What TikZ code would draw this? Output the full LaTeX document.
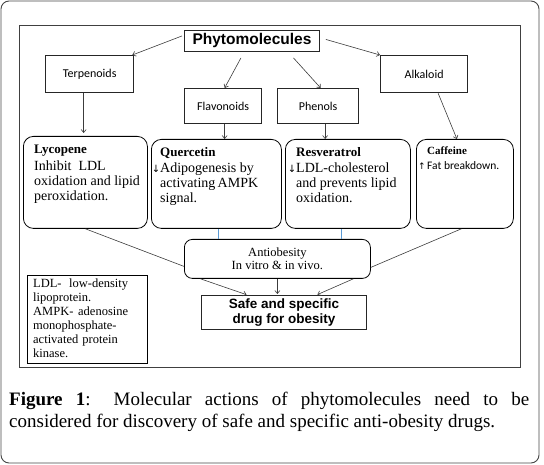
\documentclass[tikz,border=0pt]{standalone}
\usepackage{fontspec}
\setmainfont{Liberation Serif}
\newfontfamily\arialfont{Liberation Sans}
\newfontfamily\calfont{Carlito}
\newfontfamily\symfont{DejaVu Sans}
\usetikzlibrary{arrows.meta,positioning,calc}
\usepackage{xcolor}
\definecolor{LineGray}{RGB}{60,60,60}
\definecolor{FrameGray}{RGB}{70,70,70}
\definecolor{LinkBlue}{RGB}{91,155,213}
\tikzset{
  outerframe/.style={draw=FrameGray, line width=0.9pt, rounded corners=8pt},
  innerframe/.style={draw=black!75, line width=0.8pt},
  headbox/.style={draw=black!85, line width=0.9pt, inner sep=0pt, anchor=north west,
    align=center, font=\arialfont\bfseries\fontsize{15.5}{17}\selectfont},
  classbox/.style={draw=black!85, line width=1.3pt, inner sep=0pt, anchor=north west,
    font=\calfont\fontsize{12}{14}\selectfont},
  actionbox/.style={draw=black, line width=0.8pt, rounded corners=10pt, inner sep=0pt,
    anchor=north west},
  actiontext/.style={anchor=north west, inner sep=0pt, align=left,
    font=\fontsize{14}{15}\selectfont},
  resultbox/.style={draw=black, line width=0.8pt, rounded corners=8pt, inner sep=0pt,
    anchor=north west, align=center, font=\fontsize{12.5}{13}\selectfont},
  notebox/.style={draw=black, line width=1.3pt, inner sep=0pt, anchor=north west},
  notetext/.style={anchor=north west, inner sep=0pt, text width=95pt, align=left,
    font=\fontsize{12.5}{14}\selectfont},
  conn/.style={draw=LineGray, line width=0.6pt, -{Straight Barb[length=3pt,width=5pt]}},
  link/.style={draw=LineGray, line width=0.6pt},
  bluelink/.style={draw=LinkBlue, line width=0.6pt}
}
\newcommand{\downarr}{\llap{\symfont\fontsize{10}{10}\selectfont↓}}
\newcommand{\uparr}{\llap{\symfont\fontsize{9}{10}\selectfont↑\,}}

\begin{document}
\begin{tikzpicture}[x=1pt,y=-1pt]
  \useasboundingbox (0,0) rectangle (544,465);
  \draw[outerframe] (1,1) rectangle (539,463);
  \draw[innerframe] (19,25) rectangle (520,367);

  \node[headbox,minimum width=135pt,minimum height=21pt] (phyto) at (184,30) {Phytomolecules};
  \node[classbox,minimum width=88pt,minimum height=37pt] (terp) at (45,55) {Terpenoids};
  \node[classbox,minimum width=77pt,minimum height=35pt] (flav) at (184,88) {Flavonoids};
  \node[classbox,minimum width=81pt,minimum height=35pt] (phen) at (277,88) {Phenols};
  \node[classbox,minimum width=87pt,minimum height=37pt] (alk) at (380,55) {Alkaloid};

  \node[actionbox,minimum width=124pt,minimum height=92pt] (lyco) at (23,136) {};
  \node[actionbox,minimum width=130pt,minimum height=89pt] (querc) at (151,139) {};
  \node[actionbox,minimum width=125pt,minimum height=89pt] (resv) at (285,139) {};
  \node[actionbox,minimum width=97pt,minimum height=89pt] (caf) at (416,139) {};

  \node[actiontext] (lycotxt) at (34,144.5) {{\fontsize{13}{15}\selectfont\bfseries Lycopene}\\[2pt]
    Inhibit\ \ LDL\\ oxidation and lipid\\ peroxidation.};
  \node[actiontext] (querctxt) at (160,147) {{\fontsize{13}{15}\selectfont\bfseries Quercetin}\\[1pt]
    \downarr Adipogenesis by\\ activating\,AMPK\\ signal.};
  \node[actiontext] (resvtxt) at (296,147) {{\fontsize{13}{15}\selectfont\bfseries Resveratrol}\\[1pt]
    \downarr LDL-cholesterol\\ and prevents lipid\\ oxidation.};
  \node[actiontext] (caftxt) at (427,147) {{\fontsize{11}{12}\selectfont\bfseries Caffeine}\\[0pt]
    {\calfont\fontsize{11.5}{12}\selectfont\uparr Fat breakdown.}};

  \node[resultbox,minimum width=186pt,minimum height=39pt] (anti) at (184,239)
    {Antiobesity\\ In vitro \& in vivo.};
  \node[headbox,minimum width=165pt,minimum height=34pt,
    font=\arialfont\bfseries\fontsize{13.5}{15}\selectfont] (safe) at (201,295)
    {Safe and specific\\ drug for obesity};

  \node[notebox,minimum width=120pt,minimum height=88pt] (note) at (27,275) {};
  \node[notetext] (notetxt) at (33,278.5) {LDL-\hfill low-density\\ lipoprotein.\\
    AMPK-\hfill adenosine\\ monophosphate-\\ activated protein\\ kinase.};

  \draw[conn] ([shift={(-2,-5)}]phyto.west) -- ([xshift=-2pt]terp.north east);
  \draw[conn] ([xshift=-11pt,yshift=-6pt]phyto.south) -- ([xshift=1.5pt]flav.north);
  \draw[conn] ([xshift=41.5pt,yshift=-6pt]phyto.south) -- ([xshift=2.5pt]phen.north);
  \draw[conn] ([xshift=6pt,yshift=1.5pt]phyto.east) -- (alk.north west);

  \draw[conn,shorten >=3pt] ([xshift=-6pt]terp.south) -- ([xshift=-6pt]terp.south |- lyco.north);
  \draw[conn] ([xshift=1.5pt]flav.south) -- ([xshift=1.5pt]flav.south |- querc.north);
  \draw[conn] ([xshift=7pt]phen.south) -- ([xshift=7pt]phen.south |- resv.north);
  \draw[conn] ([xshift=14pt]alk.south) -- ([xshift=-8pt]caf.north);

  \draw[link] (lyco.south) -- ([yshift=-7.5pt]anti.west);
  \draw[link] ([xshift=-3.5pt]caf.south) -- ([yshift=-8.5pt]anti.east);
  \draw[bluelink] ([xshift=2pt]querc.south) -- ([xshift=2pt]querc.south |- anti.north);
  \draw[bluelink] ([xshift=-6.5pt]resv.south) -- ([xshift=-6.5pt]resv.south |- anti.north);

  \draw[conn,shorten >=1pt] ([xshift=-77pt]anti.south) -- ([xshift=-36.5pt]safe.north);
  \draw[conn,shorten >=1pt] (anti.south) -- (anti.south |- safe.north);
  \draw[conn,shorten >=1pt] ([xshift=76pt]anti.south) -- ([xshift=32.5pt]safe.north);

  \node[anchor=north west, inner sep=0pt, text width=520pt, align=justify,
    font=\fontsize{19}{22}\selectfont] (caption) at (9,392)
    {\textbf{Figure 1}: Molecular actions of phytomolecules need to be\linebreak
    considered for discovery of safe and specific anti-obesity drugs.};
\end{tikzpicture}
\end{document}
